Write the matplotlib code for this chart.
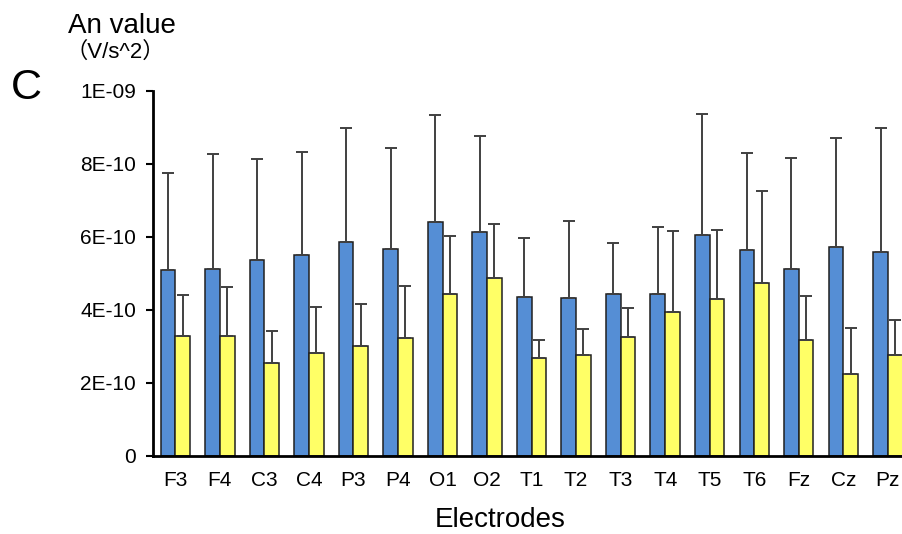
import numpy as np
import matplotlib
matplotlib.use("Agg")
import matplotlib.pyplot as plt

plt.rcParams['font.family'] = ['Liberation Sans', 'Noto Sans CJK JP', 'DejaVu Sans']

electrodes = ["F3", "F4", "C3", "C4", "P3", "P4", "O1", "O2", "T1",
              "T2", "T3", "T4", "T5", "T6", "Fz", "Cz", "Pz"]

# mean values (units of 1e-9 V/s^2) and tops of the error bars
blue_mean = [0.510, 0.513, 0.537, 0.551, 0.585, 0.566, 0.641, 0.614, 0.436,
             0.432, 0.442, 0.444, 0.605, 0.565, 0.511, 0.573, 0.558]
blue_top = [0.776, 0.827, 0.814, 0.833, 0.897, 0.842, 0.934, 0.877, 0.597,
            0.642, 0.584, 0.628, 0.936, 0.829, 0.816, 0.871, 0.897]
yellow_mean = [0.329, 0.329, 0.255, 0.281, 0.301, 0.323, 0.444, 0.486, 0.267,
               0.276, 0.325, 0.395, 0.430, 0.474, 0.316, 0.225, 0.277]
yellow_top = [0.441, 0.461, 0.342, 0.408, 0.417, 0.464, 0.601, 0.635, 0.318,
              0.346, 0.405, 0.616, 0.618, 0.726, 0.439, 0.351, 0.372]

ytick_vals = [0, 2e-10, 4e-10, 6e-10, 8e-10, 1e-9]
ytick_labels = ["0", "2E-10", "4E-10", "6E-10", "8E-10", "1E-09"]

bm = np.array(blue_mean) * 1e-9
be = np.array(blue_top) * 1e-9 - bm
ym = np.array(yellow_mean) * 1e-9
ye = np.array(yellow_top) * 1e-9 - ym

fig = plt.figure(figsize=(9.03, 5.34), dpi=100)
ax = fig.add_axes([0.169, 0.1466, 0.831, 0.6834])

x = np.arange(len(electrodes))
w = 0.33
err_kw = dict(ecolor='#404040', elinewidth=1.4, capsize=4, capthick=1.4)
ax.bar(x - w / 2, bm, w, color='#558ED5', edgecolor='#202020', linewidth=1.1,
       yerr=[np.zeros_like(be), be], error_kw=err_kw)
ax.bar(x + w / 2, ym, w, color='#FFFF66', edgecolor='#202020', linewidth=1.1,
       yerr=[np.zeros_like(ye), ye], error_kw=err_kw)

ax.set_xlim(-0.51, 16.34)
ax.set_ylim(0, 1e-9)
ax.set_yticks(ytick_vals)
ax.set_yticklabels(ytick_labels)
ax.set_xticks(x)
ax.set_xticklabels(electrodes)
ax.tick_params(axis='y', labelsize=15, length=5, width=1.5, pad=7)
ax.tick_params(axis='x', labelsize=15, length=0, pad=11)

for s in ['top', 'right']:
    ax.spines[s].set_visible(False)
ax.spines['left'].set_linewidth(2)
ax.spines['bottom'].set_linewidth(2)

fig.text(0.5537, 1 - 527 / 534, "Electrodes", fontsize=20, ha='center', va='baseline')
fig.text(0.075, 0.938, "An value", fontsize=20, va='baseline')
fig.text(0.073, 0.903, "（V/s^2）", fontsize=16, va='center')
fig.text(0.012, 0.835, "C", fontsize=31, va='center')

plt.savefig('out.png')
